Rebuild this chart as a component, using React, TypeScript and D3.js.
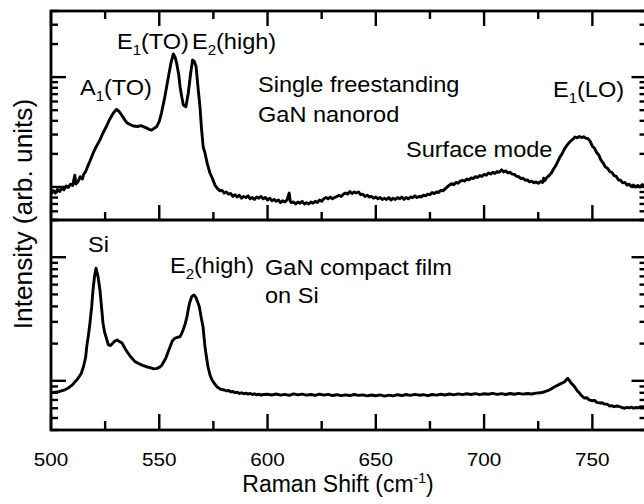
import React, { useRef, useEffect } from 'react';
import * as d3 from 'd3';

// Raman shift (cm^-1) / intensity pairs
const nanorodShift = [
  500, 501, 502, 503, 504, 505, 506, 507, 508, 509, 510, 511, 511.5, 512.5, 513.5, 514.5, 515, 516, 517, 518,
  519.5, 521, 522.6, 524, 525.7, 527, 528.8, 530.3, 531.5, 532.6, 534, 535, 536.5, 538, 540, 541.5, 542.6, 544,
  545.5, 546.5, 547.5, 548.8, 550, 551, 552.3, 553.4, 554.5, 555.4, 556.5, 557.3, 558, 559, 559.6, 560.4, 561.1,
  562.3, 563.4, 564.5, 565.4, 566.2, 567, 568, 568.8, 569.5, 570.3, 571.1, 572.2, 573.4, 574.5, 575.7,
  577, 578, 579, 580, 581, 582, 583, 584, 585, 586, 587, 588, 589, 590, 591, 592, 593, 594, 595, 596, 597, 598, 599,
  600, 601, 602, 603, 604, 605, 606, 607, 608, 609, 610, 610.5, 611, 612, 613, 614, 615, 616, 617, 618, 619,
  620, 621, 622, 623, 624, 625, 626, 627, 628, 629, 630, 631, 632, 633, 634, 635, 636, 637, 638, 639,
  640, 641, 642, 643, 644, 645, 646, 647, 648, 649, 650, 651, 652, 653, 654, 655, 656, 657, 658, 659,
  660, 661, 662, 663, 664, 665, 666, 667, 668, 669, 670, 671, 672, 673, 674, 675, 676, 677, 678, 679,
  680, 681, 682, 683, 684, 685, 686, 687, 688, 689, 690, 691, 692, 693, 694, 695, 696, 697, 698, 699,
  700, 701, 702, 703, 704, 705, 706, 707, 708, 709, 710, 711, 712, 713, 714, 715, 716, 717, 718, 719,
  720, 721, 722, 723, 724, 725, 726, 727, 727.5, 728, 729, 730, 731, 732, 733, 734, 735, 736, 737, 738, 739,
  740, 741, 742, 743, 744, 745, 746, 747, 748, 749, 750, 751, 752, 753, 754, 755, 756, 757, 758, 759,
  760, 761, 762, 763, 764, 765, 766, 767, 768, 769, 770, 771, 772, 773, 774, 775,
];
const nanorodIntensity = [
  0.86, 0.93, 0.88, 0.95, 0.91, 0.98, 0.94, 1.02, 0.99, 1.06, 1.03, 1.28, 1.06, 1.12, 1.24, 1.18, 1.29, 1.38, 1.55, 1.72,
  2.04, 2.35, 2.68, 3.1, 3.59, 4.1, 4.71, 5.09, 4.85, 4.52, 4.1, 3.85, 3.7, 3.59, 3.55, 3.62, 3.54, 3.45,
  3.33, 3.3, 3.4, 3.54, 3.95, 4.71, 6.2, 8.18, 10.8, 13.45, 16.25, 15.2, 13.45, 10.5, 8.18, 6.6, 5.58,
  5.38, 7.17, 10.9, 14.3, 13.9, 12.45, 7.64, 5.35, 3.4, 2.3, 2.04, 1.62, 1.34, 1.2, 1.04,
  0.96, 0.92, 0.93, 0.88, 0.9, 0.86, 0.87, 0.82, 0.85, 0.81, 0.84, 0.79, 0.82, 0.8, 0.83, 0.78, 0.8, 0.77, 0.81, 0.79, 0.82, 0.78, 0.8,
  0.76, 0.79, 0.75, 0.77, 0.74, 0.76, 0.72, 0.75, 0.73, 0.76, 0.88, 0.74, 0.72, 0.73, 0.7, 0.73, 0.71, 0.74, 0.7, 0.72, 0.7,
  0.73, 0.71, 0.74, 0.72, 0.76, 0.74, 0.78, 0.8, 0.78, 0.81, 0.78, 0.8, 0.82, 0.84, 0.82, 0.86, 0.88, 0.86, 0.91, 0.87,
  0.9, 0.88, 0.9, 0.85, 0.86, 0.82, 0.84, 0.81, 0.82, 0.79, 0.81, 0.78, 0.8, 0.77, 0.79, 0.77, 0.8, 0.76, 0.79, 0.77,
  0.8, 0.78, 0.81, 0.77, 0.8, 0.78, 0.81, 0.8, 0.83, 0.8, 0.82, 0.81, 0.84, 0.83, 0.86, 0.85, 0.89, 0.87, 0.9, 0.89,
  0.93, 0.92, 0.96, 1.0, 1.04, 1.07, 1.05, 1.1, 1.08, 1.13, 1.15, 1.13, 1.18, 1.16, 1.21, 1.19, 1.24, 1.22, 1.27, 1.25,
  1.3, 1.28, 1.34, 1.31, 1.36, 1.33, 1.38, 1.36, 1.43, 1.37, 1.4, 1.34, 1.36, 1.31, 1.3, 1.25, 1.24, 1.19, 1.2, 1.15,
  1.16, 1.11, 1.13, 1.09, 1.11, 1.08, 1.12, 1.1, 1.2, 1.14, 1.22, 1.27, 1.33, 1.45, 1.55, 1.7, 1.87, 2.0, 2.2, 2.35, 2.5,
  2.62, 2.72, 2.85, 2.8, 2.88, 2.82, 2.86, 2.78, 2.75, 2.6, 2.35, 2.25, 2.05, 1.95, 1.75, 1.65, 1.52, 1.48, 1.38, 1.36,
  1.27, 1.25, 1.16, 1.15, 1.09, 1.1, 1.04, 1.06, 1.01, 1.04, 1.0, 1.03, 1.0, 1.05, 1.02, 1.04,
];

const filmShift = [
  500, 502, 504, 506, 508, 510, 511, 512, 513, 514, 515, 516, 516.5, 517.3, 518, 518.8, 519.4, 520.1, 520.8,
  521.7, 522.6, 523.3, 524, 524.7, 525.4, 526.5, 527.5, 528.6, 529.5, 530.5, 531.6, 532.8, 534, 535.5, 537,
  538.8, 540.5, 542, 544, 545.7, 547.5, 549, 550.2, 551.2, 552, 553, 554, 555, 556, 557.2, 558.3, 559.5, 560.3,
  561, 562, 562.8, 563.4, 564, 565, 566, 567, 567.9, 568.5, 569.3, 570.2, 571.1, 571.8, 572.5, 573.4, 574.3,
  575.5, 576.6, 578, 579, 580, 581, 582, 583, 584, 585, 586, 587, 588, 589, 590, 591, 592, 593, 594, 595, 596, 597, 598,
  600, 602, 604, 606, 608, 610, 612, 614, 616, 618, 620, 622, 624, 626, 628, 630, 632, 634, 636, 638,
  640, 642, 644, 646, 648, 650, 652, 654, 656, 658, 660, 662, 664, 666, 668, 670, 672, 674, 676, 678,
  680, 682, 684, 686, 688, 690, 692, 694, 696, 698, 700, 702, 704, 706, 708, 710, 712, 714, 716, 718,
  720, 722, 724, 726, 728, 730.5, 732.6, 735, 737.2, 738.6, 740, 741.8, 743, 744, 745, 746.4, 747.5, 748.5, 750,
  751, 752, 753.4, 754.5, 755.5, 757, 758, 759, 760, 761, 762.5, 764, 765, 766, 767, 768, 769, 770, 771, 772, 773.4, 775,
];
const filmIntensity = [
  0.8, 0.81, 0.82, 0.84, 0.875, 0.93, 0.98, 1.02, 1.08, 1.15, 1.3, 1.55, 1.89, 2.35, 2.94, 4.0, 5.43, 7.0, 8.14,
  7.0, 5.43, 4.0, 2.94, 2.5, 2.27, 1.95, 1.93, 2.02, 2.1, 2.14, 2.08, 2.02, 1.85, 1.68, 1.55,
  1.43, 1.38, 1.34, 1.3, 1.28, 1.25, 1.26, 1.29, 1.34, 1.42, 1.52, 1.7, 1.89, 2.1, 2.21, 2.25, 2.27, 2.4,
  2.58, 2.9, 3.3, 3.8, 4.26, 4.8, 4.95, 4.7, 4.26, 3.98, 3.3, 2.74, 1.89, 1.55, 1.3, 1.12, 1.02,
  0.95, 0.896, 0.86, 0.85, 0.843, 0.83, 0.835, 0.815, 0.82, 0.801, 0.81, 0.79, 0.8, 0.785, 0.795, 0.78, 0.79, 0.775, 0.785, 0.77, 0.78, 0.765, 0.775,
  0.778, 0.768, 0.782, 0.765, 0.776, 0.762, 0.785, 0.77, 0.78, 0.765, 0.775, 0.762, 0.78, 0.765, 0.776, 0.76, 0.772, 0.758, 0.77, 0.76,
  0.775, 0.762, 0.77, 0.755, 0.768, 0.757, 0.77, 0.752, 0.765, 0.755, 0.772, 0.76, 0.775, 0.762, 0.776, 0.765, 0.772, 0.758, 0.775, 0.765,
  0.778, 0.768, 0.782, 0.77, 0.785, 0.772, 0.786, 0.775, 0.788, 0.772, 0.786, 0.778, 0.792, 0.776, 0.788, 0.775, 0.79, 0.778, 0.792, 0.78,
  0.79, 0.782, 0.795, 0.8, 0.816, 0.85, 0.896, 0.94, 0.984, 1.05, 0.97, 0.896, 0.83, 0.8, 0.76, 0.726, 0.73, 0.7, 0.69,
  0.695, 0.67, 0.662, 0.665, 0.65, 0.645, 0.625, 0.63, 0.617, 0.625, 0.62, 0.605, 0.6, 0.61, 0.603, 0.612, 0.6, 0.608, 0.605, 0.615, 0.617, 0.61,
];

const shiftTicks = [500, 550, 600, 650, 700, 750];

type Part = { t: string; sub?: boolean };

const topLabels: { x: number; y: number; parts: Part[] }[] = [
  { x: 80, y: 95, parts: [{ t: 'A' }, { t: '1', sub: true }, { t: '(TO)' }] },
  { x: 117, y: 49, parts: [{ t: 'E' }, { t: '1', sub: true }, { t: '(TO)' }] },
  { x: 192, y: 49, parts: [{ t: 'E' }, { t: '2', sub: true }, { t: '(high)' }] },
  { x: 258, y: 92, parts: [{ t: 'Single freestanding' }] },
  { x: 258, y: 122, parts: [{ t: 'GaN nanorod' }] },
  { x: 406, y: 157, parts: [{ t: 'Surface mode' }] },
  { x: 553, y: 97, parts: [{ t: 'E' }, { t: '1', sub: true }, { t: '(LO)' }] },
];
const bottomLabels: { x: number; y: number; parts: Part[] }[] = [
  { x: 88, y: 252, parts: [{ t: 'Si' }] },
  { x: 170, y: 273, parts: [{ t: 'E' }, { t: '2', sub: true }, { t: '(high)' }] },
  { x: 265, y: 275, parts: [{ t: 'GaN compact film' }] },
  { x: 265, y: 303, parts: [{ t: 'on Si' }] },
];

const App = () => {
  const svgRef = useRef<SVGSVGElement>(null);
  const width = 644;
  const height = 504;

  useEffect(() => {
    const svg = d3.select(svgRef.current);
    svg.selectAll('*').remove();

    const left = 51;
    const right = 646.5;
    const top = 11;
    const mid = 220;
    const bottom = 430;
    const font = '"Liberation Sans", Arial, Helvetica, sans-serif';

    const x = d3.scaleLinear().domain([500, 775]).range([left, right]);
    const yTop = d3.scaleLog().domain([0.5, 40]).range([mid, top]);
    const yBot = d3.scaleLog().domain([0.4, 20]).range([bottom, mid]);

    const defs = svg.append('defs');
    defs.append('clipPath').attr('id', 'clip-top')
      .append('rect').attr('x', left).attr('y', top).attr('width', right - left).attr('height', mid - top);
    defs.append('clipPath').attr('id', 'clip-bot')
      .append('rect').attr('x', left).attr('y', mid).attr('width', right - left).attr('height', bottom - mid);

    const isDecade = (v: number) => Math.abs(Math.log10(v) - Math.round(Math.log10(v))) < 1e-6;

    // y ticks, log scale, on both sides
    const yTicks = (scale: d3.ScaleLogarithmic<number, number>) => {
      const g = svg.append('g').attr('stroke', '#000').attr('stroke-width', 2.4);
      scale.ticks().forEach(v => {
        const len = isDecade(v) ? 15 : 7;
        const yy = scale(v);
        g.append('line').attr('x1', left).attr('x2', left + len).attr('y1', yy).attr('y2', yy);
        g.append('line').attr('x1', right).attr('x2', right - len).attr('y1', yy).attr('y2', yy);
      });
    };
    yTicks(yTop);
    yTicks(yBot);

    // x ticks
    const xg = svg.append('g').attr('stroke', '#000').attr('stroke-width', 2.4);
    d3.range(500, 776, 25).forEach(v => {
      const len = v % 50 === 0 ? 15 : 8;
      const xx = x(v);
      xg.append('line').attr('x1', xx).attr('x2', xx).attr('y1', top).attr('y2', top + len);
      xg.append('line').attr('x1', xx).attr('x2', xx).attr('y1', mid).attr('y2', mid - len);
      xg.append('line').attr('x1', xx).attr('x2', xx).attr('y1', bottom).attr('y2', bottom - (len + 1));
    });

    // spectra
    const lineTop = d3.line<number>().x((d, i) => x(nanorodShift[i])).y(d => yTop(d));
    const lineBot = d3.line<number>().x((d, i) => x(filmShift[i])).y(d => yBot(d));

    svg.append('path')
      .datum(nanorodIntensity)
      .attr('clip-path', 'url(#clip-top)')
      .attr('fill', 'none')
      .attr('stroke', '#000')
      .attr('stroke-width', 2.9)
      .attr('stroke-linejoin', 'round')
      .attr('d', lineTop);

    svg.append('path')
      .datum(filmIntensity)
      .attr('clip-path', 'url(#clip-bot)')
      .attr('fill', 'none')
      .attr('stroke', '#000')
      .attr('stroke-width', 2.9)
      .attr('stroke-linejoin', 'round')
      .attr('d', lineBot);

    // frame
    svg.append('rect')
      .attr('x', left).attr('y', top)
      .attr('width', right - left).attr('height', bottom - top)
      .attr('fill', 'none').attr('stroke', '#000').attr('stroke-width', 2.8);
    svg.append('line')
      .attr('x1', left).attr('x2', right).attr('y1', mid).attr('y2', mid)
      .attr('stroke', '#000').attr('stroke-width', 2.8);

    // tick labels
    shiftTicks.forEach(v => {
      svg.append('text')
        .attr('transform', `translate(${x(v)},466) scale(1.12,1)`)
        .attr('text-anchor', 'middle')
        .attr('font-family', font)
        .attr('font-size', 18.5)
        .text(v);
    });

    // annotations
    const label = (l: { x: number; y: number; parts: Part[] }) => {
      const t = svg.append('text')
        .attr('transform', `translate(${l.x},${l.y}) scale(1.07,1)`)
        .attr('font-family', font)
        .attr('font-size', 22);
      let shifted = false;
      l.parts.forEach(p => {
        const s = t.append('tspan').text(p.t);
        if (p.sub) {
          s.attr('font-size', 14).attr('dy', 6);
          shifted = true;
        } else if (shifted) {
          s.attr('dy', -6);
          shifted = false;
        }
      });
    };
    topLabels.forEach(label);
    bottomLabels.forEach(label);

    // axis titles
    const xt = svg.append('text')
      .attr('transform', 'translate(338,492)')
      .attr('text-anchor', 'middle')
      .attr('font-family', font)
      .attr('font-size', 23);
    xt.append('tspan').text('Raman Shift (cm');
    xt.append('tspan').text('-1').attr('font-size', 14).attr('dy', -9);
    xt.append('tspan').text(')').attr('dy', 9);

    svg.append('text')
      .attr('transform', 'translate(32,214) rotate(-90) scale(1.05,1)')
      .attr('text-anchor', 'middle')
      .attr('font-family', font)
      .attr('font-size', 25)
      .text('Intensity (arb. units)');
  }, []);

  return (
    <svg
      ref={svgRef}
      width={width}
      height={height}
      style={{ position: 'absolute', left: 0, top: 0, background: '#fff' }}
    />
  );
};

export default App;
